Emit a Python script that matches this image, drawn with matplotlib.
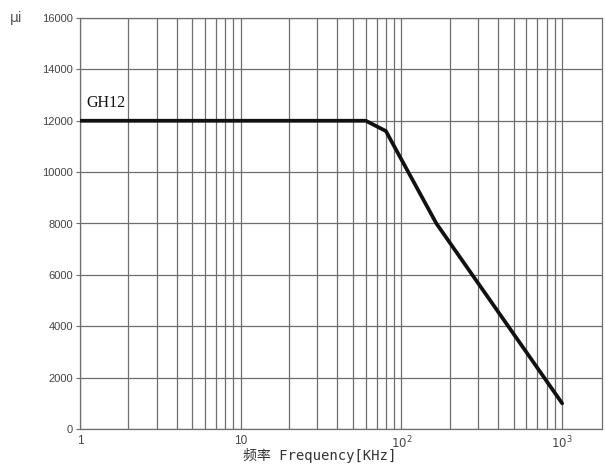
import matplotlib
matplotlib.use("Agg")
import matplotlib.pyplot as plt
from matplotlib.ticker import FixedLocator, NullFormatter

# Data
freq_khz = [1, 60, 80, 165, 1000]
mu_i = [12000, 12000, 11600, 8000, 1000]
series_name = "GH12"
y_ticks = [0, 2000, 4000, 6000, 8000, 10000, 12000, 14000, 16000]
x_major = [1, 10, 100, 1000]
x_major_labels = ["1", "10", "$10^2$", "$10^3$"]

W, H = 605, 473
fig = plt.figure(figsize=(W / 100, H / 100), dpi=100)
left, right, top, bottom = 80, 602, 18, 429
ax = fig.add_axes([left / W, 1 - bottom / H, (right - left) / W, (bottom - top) / H])

ax.set_xscale("log")
ax.set_xlim(1, 1770)
ax.set_ylim(0, 16000)

grid_c = "#6e6e6e"
# minor/major vertical grid up to 1000 only
vlines = [m * 10 ** d for d in range(3) for m in range(1, 10)] + [1000]
for v in vlines:
    ax.axvline(v, color=grid_c, lw=0.9, zorder=1)
for yv in y_ticks:
    ax.axhline(yv, color=grid_c, lw=0.9, zorder=1)

ax.plot(freq_khz, mu_i, color="#111111", lw=2.7, zorder=3, solid_capstyle="round")

ax.xaxis.set_major_locator(FixedLocator(x_major))
ax.set_xticklabels(x_major_labels)
ax.xaxis.set_minor_formatter(NullFormatter())
ax.tick_params(axis="x", which="both", length=0, pad=4, labelsize=8.5, labelcolor="#444444")
ax.set_yticks(y_ticks)
ax.set_yticklabels([str(v) for v in y_ticks])
ax.tick_params(axis="y", length=3, color=grid_c, pad=2, labelsize=8, labelcolor="#444444")
for lab in ax.get_xticklabels() + ax.get_yticklabels():
    lab.set_family("Liberation Sans")

for s in ax.spines.values():
    s.set_color(grid_c)
    s.set_linewidth(0.9)

ax.text(1.09, 12700, series_name, family="Liberation Serif", fontsize=11.5,
        color="#111111", ha="left", va="center")

fig.text(16 / W, 1 - 18 / H, "μi", family="DejaVu Sans", fontsize=10,
         color="#555555", ha="center", va="center")
fig.text(320 / W, 1 - 455 / H, "频率 Frequency[KHz]",
         family=["DejaVu Sans Mono", "Noto Sans CJK SC"], fontsize=10,
         color="#333333", ha="center", va="center")

fig.savefig("out.png", dpi=100)
